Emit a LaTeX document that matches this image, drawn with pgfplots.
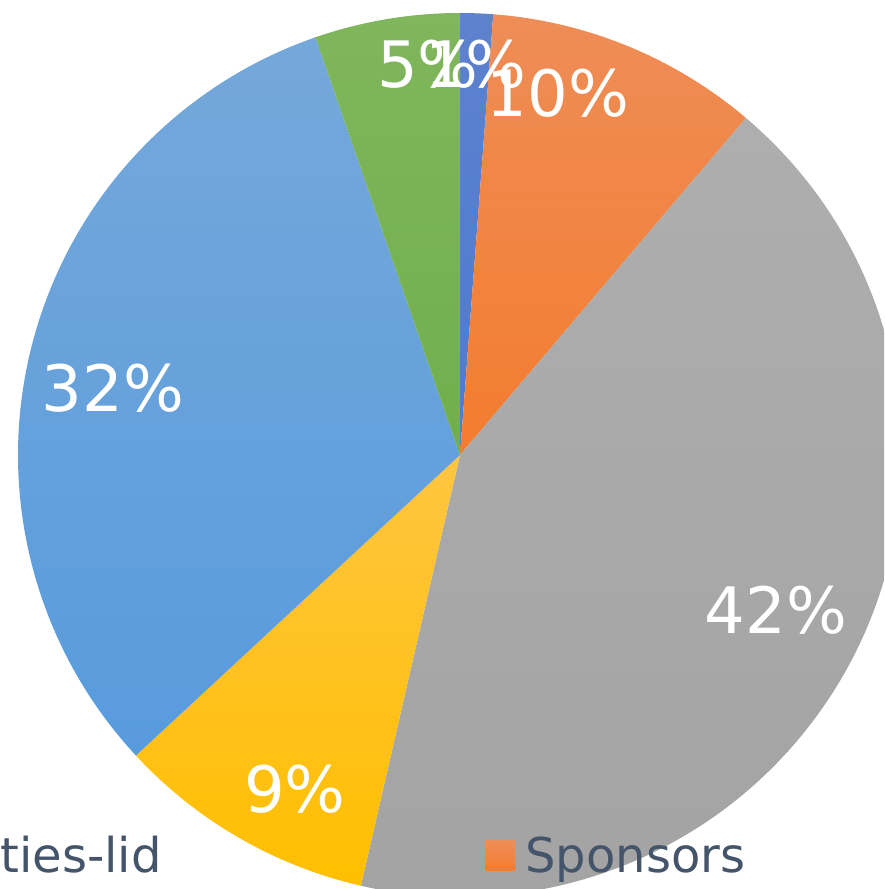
\documentclass[border=0pt]{standalone}
\usepackage{pgfplots}
\pgfplotsset{compat=1.18}
\usepackage{pgfplotstable}
\usepackage{fontspec}
\setmainfont{DejaVu Sans}
% slice colours: 0 dark blue, 1 orange, 2 gray, 3 yellow, 4 light blue, 5 green
\definecolor{slt0}{HTML}{5D82CE}\definecolor{slb0}{HTML}{4E7AD0}
\definecolor{slt1}{HTML}{EE8D57}\definecolor{slb1}{HTML}{F47C2E}
\definecolor{slt2}{HTML}{AEAEAE}\definecolor{slb2}{HTML}{A3A3A3}
\definecolor{slt3}{HTML}{FFC540}\definecolor{slb3}{HTML}{FFBF00}
\definecolor{slt4}{HTML}{75A8DA}\definecolor{slb4}{HTML}{589BDD}
\definecolor{slt5}{HTML}{80B65C}\definecolor{slb5}{HTML}{70AF4C}
\definecolor{legtext}{HTML}{44546A}
\pgfplotstableread{
idx value
0 1.2
1 10.0
2 42.4
3 9.5
4 31.6
5 5.3
}\piedata
\begin{document}
\begin{tikzpicture}
\begin{axis}[x=0.5pt,y=0.5pt,scale only axis,
  xmin=0,xmax=884,ymin=0,ymax=889,
  hide axis, clip=true, at={(0,0)}, anchor=south west]
\def\cum{0}
\pgfplotsforeachungrouped \i in {0,...,5}{%
  \pgfplotstablegetelem{\i}{value}\of\piedata
  \let\v\pgfplotsretval
  \pgfmathsetmacro\a{90-3.6*\cum}
  \pgfmathsetmacro\b{90-3.6*(\cum+\v)}
  \pgfmathsetmacro\cum{\cum+\v}
  \edef\temp{\noexpand\path[top color=slt\i, bottom color=slb\i] (axis cs:460,434) -- ++(\a:221pt) arc[start angle=\a, end angle=\b, radius=221pt] -- cycle;}
  \temp
}
\begin{scope}[every node/.style={text=white, inner sep=0pt, font=\fontsize{32}{32}\selectfont}]
\node at (axis cs:428,825) {5\%};
\node at (axis cs:476,825) {1\%};
\node at (axis cs:558,796) {10\%};
\node at (axis cs:776,279) {42\%};
\node at (axis cs:295,100) {9\%};
\node at (axis cs:113,501) {32\%};
\end{scope}
\begin{scope}[every node/.style={text=legtext, inner sep=0pt, font=\fontsize{24}{24}\selectfont}]
\node[anchor=base east] at (axis cs:162,17) {ties-lid};
\path[top color=slt1, bottom color=slb1] (axis cs:485,18) rectangle (axis cs:515,48);
\node[anchor=base west] at (axis cs:525,17) {Sponsors};
\end{scope}
\end{axis}
\pgfresetboundingbox
\useasboundingbox (0,0) rectangle (442pt,444.5pt);
\end{tikzpicture}
\end{document}
